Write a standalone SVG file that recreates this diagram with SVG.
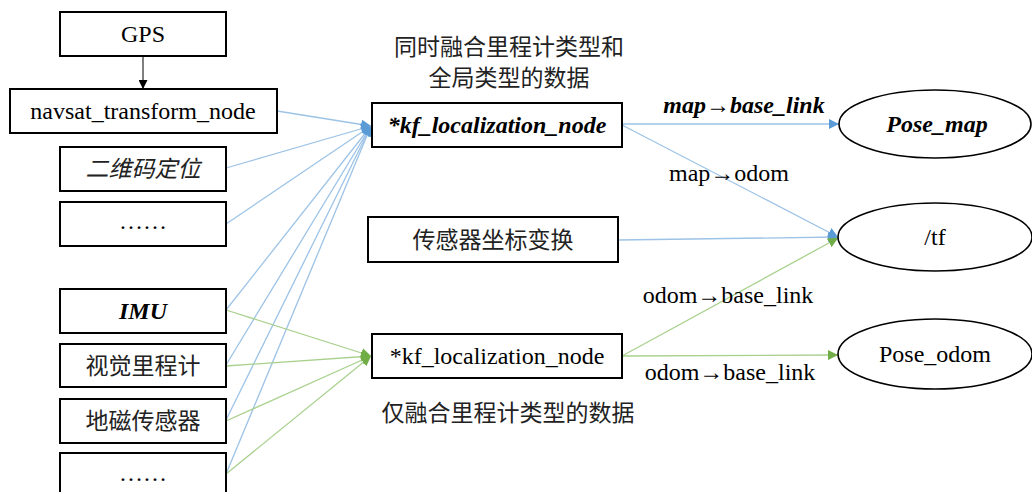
<svg xmlns="http://www.w3.org/2000/svg" width="1032" height="492" viewBox="0 0 1032 492">
<defs>
<style>
.box{fill:#fff;stroke:#000;stroke-width:2}
.ell{fill:#fff;stroke:#000;stroke-width:1.6}
.t{font-family:'Liberation Serif','Times New Roman',Tinos,'DejaVu Serif',serif;font-size:24px;fill:#000;text-anchor:middle}
.c{font-family:'Noto Sans CJK SC',sans-serif;font-size:23px;fill:#222;text-anchor:middle}
.bi{font-weight:bold;font-style:italic}
.it{font-style:italic}
.blue{stroke:#9DC3E6;stroke-width:1.3;fill:none}
.green{stroke:#A9D18E;stroke-width:1.3;fill:none}
.black{stroke:#000;stroke-width:1;fill:none}
</style>
<marker id="ab" viewBox="0 0 10 10" refX="10" refY="5" markerWidth="10" markerHeight="10" markerUnits="userSpaceOnUse" orient="auto"><path d="M0,0 L10,5 L0,10 z" fill="#5B9BD5"/></marker>
<marker id="ag" viewBox="0 0 10 10" refX="10" refY="5" markerWidth="10" markerHeight="10" markerUnits="userSpaceOnUse" orient="auto"><path d="M0,0 L10,5 L0,10 z" fill="#70AD47"/></marker>
<marker id="ak" viewBox="0 0 10 10" refX="10" refY="5" markerWidth="9" markerHeight="9" markerUnits="userSpaceOnUse" orient="auto"><path d="M0,0 L10,5 L0,10 z" fill="#000"/></marker>
</defs>

<g id="connectors">
<line class="black" x1="143" y1="57" x2="143" y2="89" marker-end="url(#ak)"/>
<line class="blue" x1="277" y1="111" x2="371" y2="126" marker-end="url(#ab)"/>
<line class="blue" x1="226" y1="168" x2="371" y2="126" marker-end="url(#ab)"/>
<line class="blue" x1="226" y1="224" x2="371" y2="126" marker-end="url(#ab)"/>
<line class="blue" x1="226" y1="310" x2="371" y2="126" marker-end="url(#ab)"/>
<line class="blue" x1="226" y1="365" x2="371" y2="126" marker-end="url(#ab)"/>
<line class="blue" x1="226" y1="420" x2="371" y2="126" marker-end="url(#ab)"/>
<line class="blue" x1="226" y1="474" x2="371" y2="126" marker-end="url(#ab)"/>
<line class="green" x1="226" y1="310" x2="371" y2="356" marker-end="url(#ag)"/>
<line class="green" x1="226" y1="366" x2="371" y2="356" marker-end="url(#ag)"/>
<line class="green" x1="226" y1="421" x2="371" y2="356" marker-end="url(#ag)"/>
<line class="green" x1="226" y1="474" x2="371" y2="356" marker-end="url(#ag)"/>
<line class="blue" x1="622" y1="124" x2="839" y2="124" marker-end="url(#ab)"/>
<line class="blue" x1="622" y1="125" x2="838" y2="237" marker-end="url(#ab)"/>
<line class="blue" x1="618" y1="240" x2="838" y2="237" marker-end="url(#ab)"/>
<line class="green" x1="622" y1="356" x2="838" y2="238" marker-end="url(#ag)"/>
<line class="green" x1="622" y1="356" x2="838" y2="355" marker-end="url(#ag)"/>
<text class="t bi" x="744" y="113">map→base_link</text>
<text class="t" x="729" y="181">map→odom</text>
<text class="t" x="728" y="303">odom→base_link</text>
<text class="t" x="730" y="380">odom→base_link</text>
</g>

<g id="gps"><rect class="box" x="60" y="12" width="166" height="44"/><text class="t" x="143" y="42">GPS</text></g>
<g id="navsat"><rect class="box" x="10" y="89" width="267" height="44"/><text class="t" x="143" y="119">navsat_transform_node</text></g>
<g id="qrcode"><rect class="box" x="60" y="147" width="166" height="44"/><text class="c it" x="143" y="177">二维码定位</text></g>
<g id="etc1"><rect class="box" x="60" y="202" width="166" height="44"/><text class="t" x="143" y="229">……</text></g>
<g id="imu"><rect class="box" x="60" y="289" width="166" height="44"/><text class="t bi" x="143" y="319">IMU</text></g>
<g id="vo"><rect class="box" x="60" y="344" width="166" height="43"/><text class="c" x="143" y="374">视觉里程计</text></g>
<g id="mag"><rect class="box" x="60" y="399" width="166" height="44"/><text class="c" x="143" y="429">地磁传感器</text></g>
<g id="etc2"><rect class="box" x="60" y="453" width="166" height="46"/><text class="t" x="143" y="481">……</text></g>

<g id="kf_global"><rect class="box" x="372" y="103" width="250" height="44"/><text class="t bi" x="497" y="133">*kf_localization_node</text></g>
<g id="label_global"><text class="c" x="509" y="55">同时融合里程计类型和</text><text class="c" x="509" y="86">全局类型的数据</text></g>
<g id="sensor_tf"><rect class="box" x="368" y="217" width="250" height="45"/><text class="c" x="493" y="248">传感器坐标变换</text></g>
<g id="kf_odom"><rect class="box" x="372" y="334" width="250" height="44"/><text class="t" x="497" y="364">*kf_localization_node</text></g>
<g id="label_odom"><text class="c" x="508" y="421">仅融合里程计类型的数据</text></g>

<g id="pose_map"><ellipse class="ell" cx="935" cy="124" rx="96" ry="34"/><text class="t bi" x="937" y="132">Pose_map</text></g>
<g id="tf"><ellipse class="ell" cx="935" cy="237" rx="97" ry="34"/><text class="t" x="935" y="245">/tf</text></g>
<g id="pose_odom"><ellipse class="ell" cx="935" cy="354" rx="97" ry="35"/><text class="t" x="935" y="362">Pose_odom</text></g>
</svg>
